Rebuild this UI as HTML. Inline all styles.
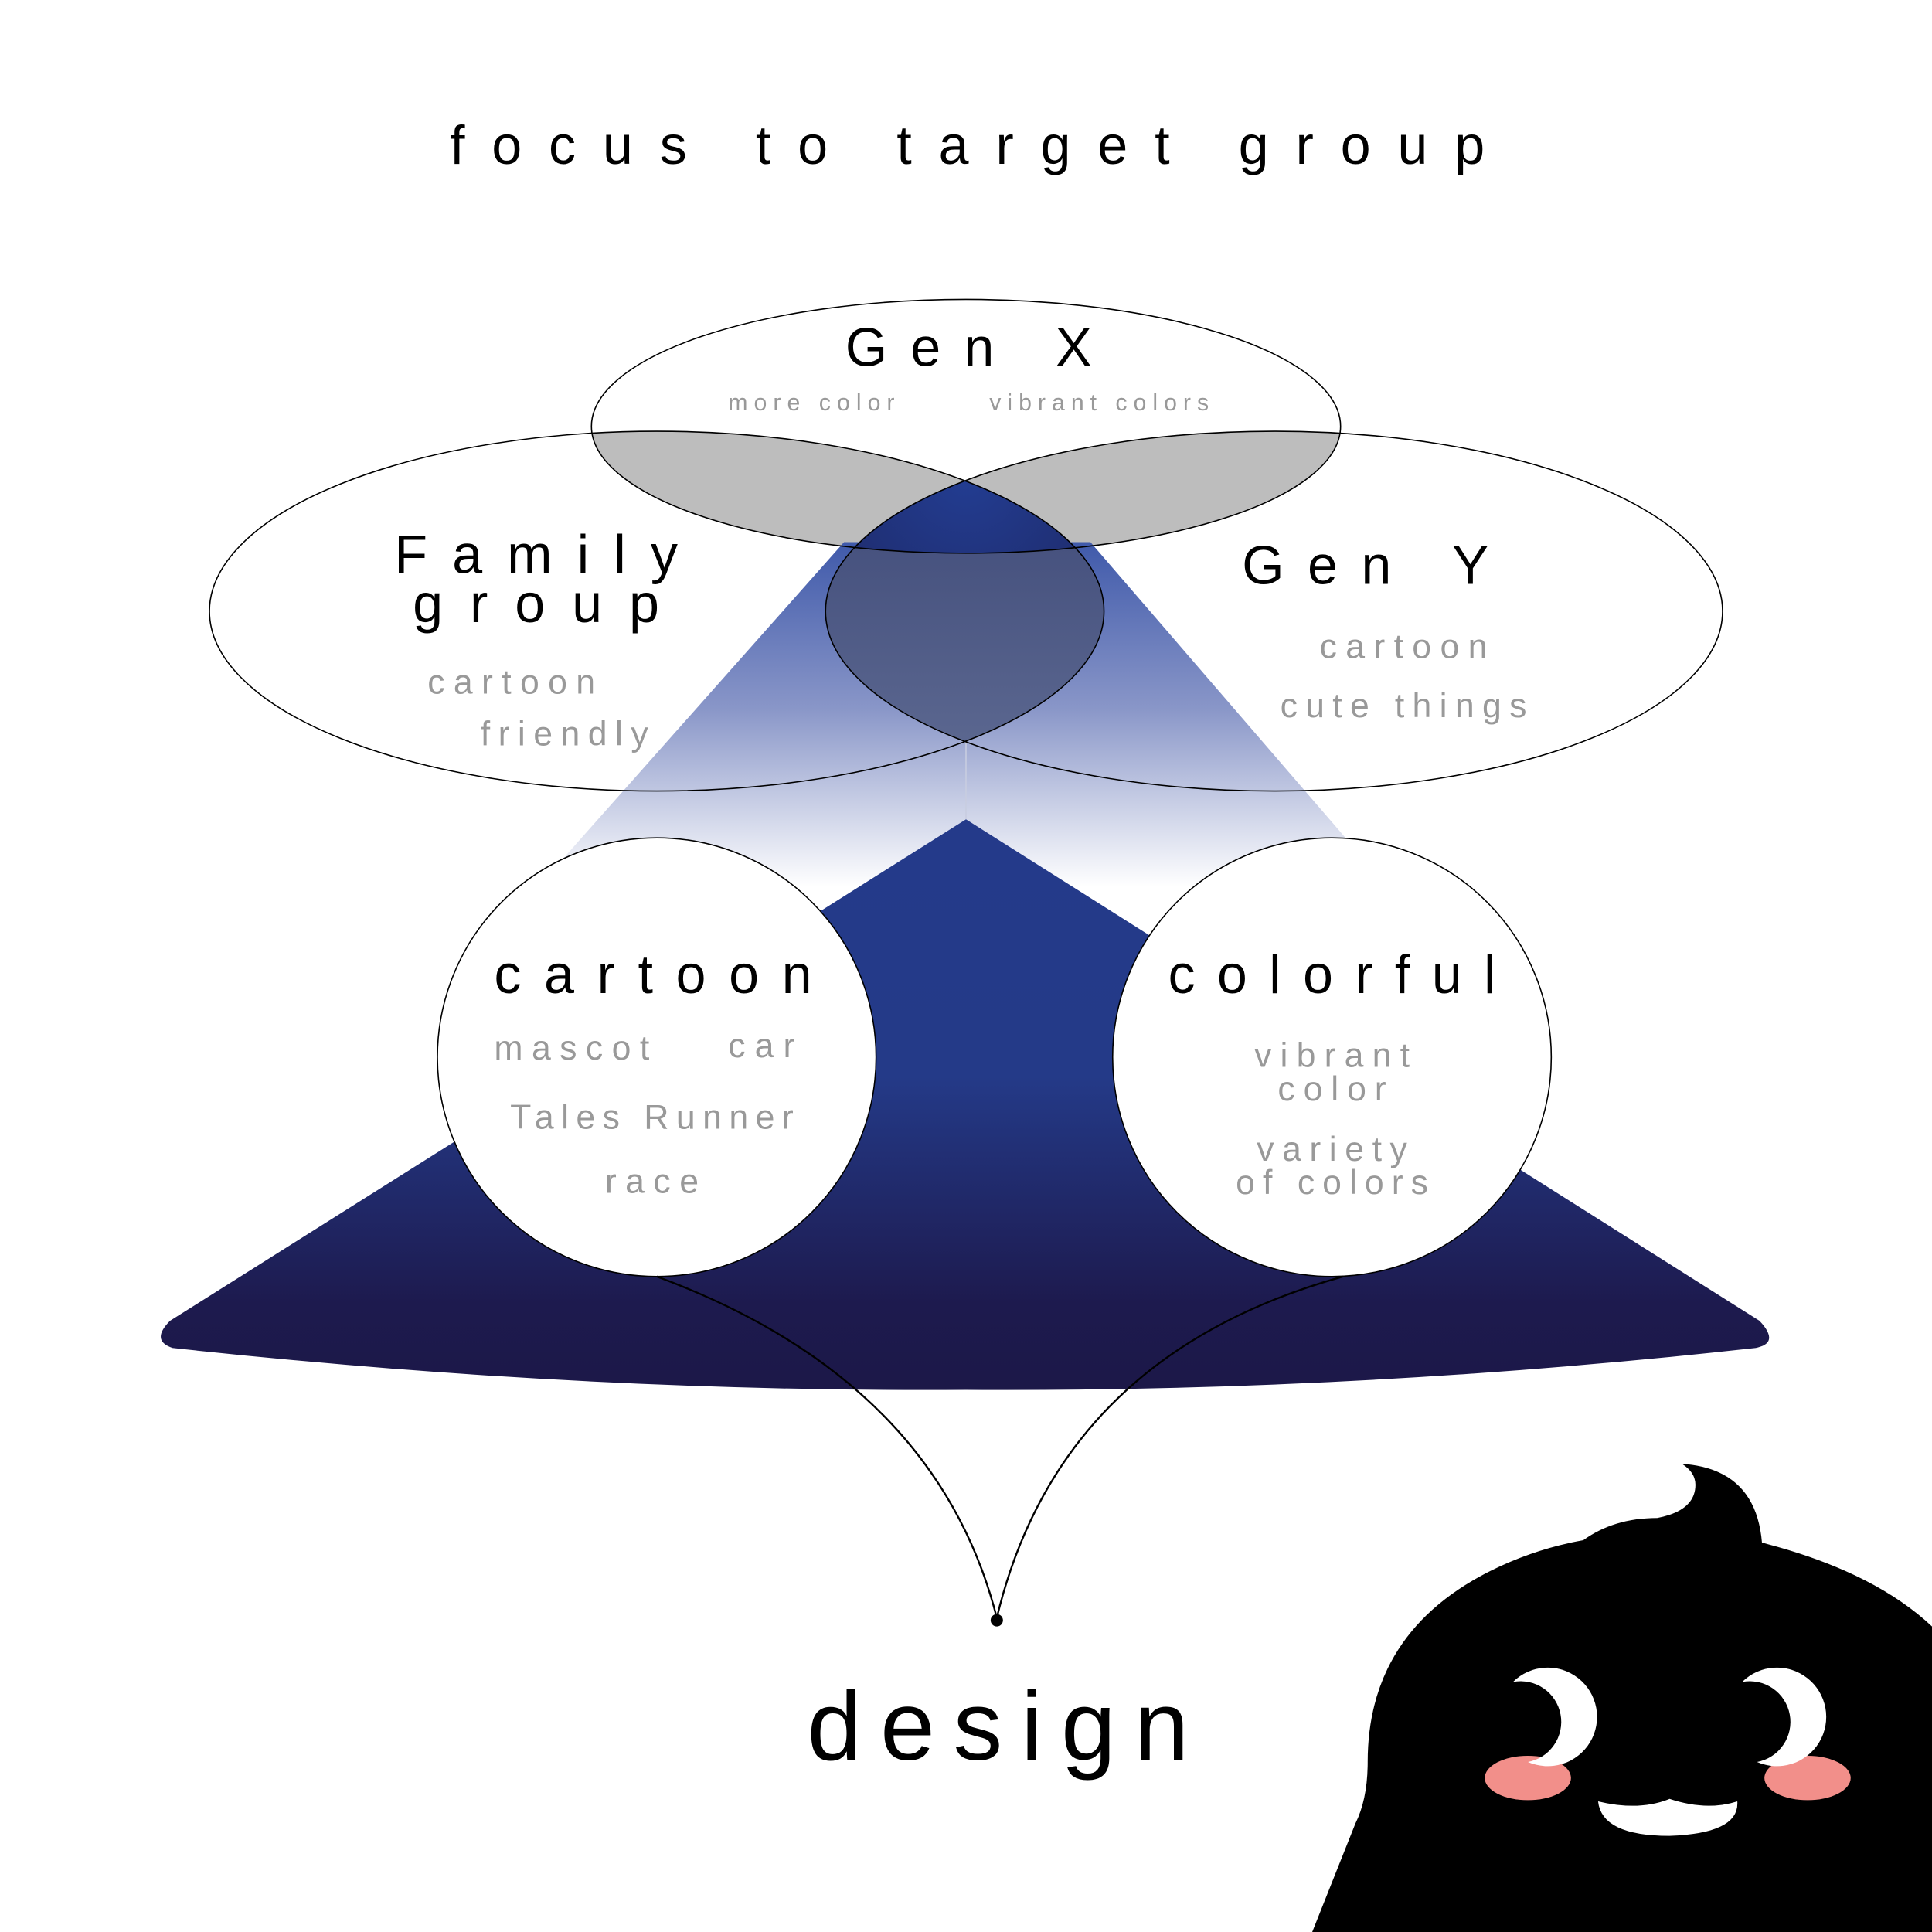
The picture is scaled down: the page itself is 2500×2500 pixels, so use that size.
<!DOCTYPE html>
<html><head><meta charset="utf-8"><style>
html,body{margin:0;padding:0;background:#fff;}
svg{display:block;}
text{font-family:"Liberation Sans",sans-serif;}
</style></head><body>
<svg width="2500" height="2500" viewBox="0 0 1568 1568" xmlns="http://www.w3.org/2000/svg">
<defs>
<linearGradient id="tri" x1="0" y1="665" x2="0" y2="1128" gradientUnits="userSpaceOnUse">
<stop offset="0" stop-color="#243a8a"/><stop offset="0.45" stop-color="#243a88"/><stop offset="0.85" stop-color="#1d1a4e"/><stop offset="1" stop-color="#1c1848"/></linearGradient>
<linearGradient id="cone" x1="0" y1="430" x2="0" y2="720" gradientUnits="userSpaceOnUse">
<stop offset="0" stop-color="#3a55a8"/><stop offset="0.5" stop-color="#8996c8"/><stop offset="1" stop-color="#ffffff"/></linearGradient>
<linearGradient id="lens" x1="0" y1="380" x2="0" y2="600" gradientUnits="userSpaceOnUse">
<stop offset="0" stop-color="#3f4a78"/><stop offset="1" stop-color="#5a668f"/></linearGradient>
<radialGradient id="dome" cx="784" cy="385" r="120" gradientUnits="userSpaceOnUse">
<stop offset="0" stop-color="#233d92"/><stop offset="1" stop-color="#1f2d70"/></radialGradient>
<clipPath id="cx"><ellipse cx="784" cy="346" rx="304" ry="103"/></clipPath>
<clipPath id="cf"><ellipse cx="533" cy="496" rx="363" ry="146"/></clipPath>
<clipPath id="cy"><ellipse cx="1034" cy="496" rx="364" ry="146"/></clipPath>
</defs>
<rect width="1568" height="1568" fill="#fff"/>
<text x="785" y="133" font-size="44" text-anchor="middle" textLength="840" lengthAdjust="spacing" fill="#000">focus to target group</text>

<g clip-path="url(#cx)"><ellipse cx="533" cy="496" rx="363" ry="146" fill="#bdbdbd"/><ellipse cx="1034" cy="496" rx="364" ry="146" fill="#bdbdbd"/></g>

<polygon points="685,440 885,440 1161,760 401,760" fill="url(#cone)"/>
<line x1="784" y1="440" x2="784" y2="665" stroke="#c8cde0" stroke-width="1"/>
<path d="M784,665 L1428,1072 Q1445,1090 1425,1094 Q1100,1130 784,1128 Q470,1130 140,1094 Q122,1088 138,1072 Z" fill="url(#tri)"/>

<g clip-path="url(#cf)"><ellipse cx="1034" cy="496" rx="364" ry="146" fill="url(#lens)"/></g>
<g clip-path="url(#cf)"><g clip-path="url(#cy)"><ellipse cx="784" cy="346" rx="304" ry="103" fill="url(#dome)"/></g></g>

<g fill="none" stroke="#000" stroke-width="1">
<ellipse cx="784" cy="346" rx="304" ry="103"/>
<ellipse cx="533" cy="496" rx="363" ry="146"/>
<ellipse cx="1034" cy="496" rx="364" ry="146"/>
</g>

<text x="786" y="297" font-size="44" text-anchor="middle" textLength="200" lengthAdjust="spacing">Gen X</text>
<g fill="#999" font-size="19">
<text x="591" y="333" textLength="135" lengthAdjust="spacing">more color</text>
<text x="803" y="333" textLength="178" lengthAdjust="spacing">vibrant colors</text>
</g>
<text x="320" y="465" font-size="44" textLength="230" lengthAdjust="spacing">Family</text>
<text x="335" y="505" font-size="44" textLength="200" lengthAdjust="spacing">group</text>
<g fill="#999" font-size="28">
<text x="347" y="563" textLength="136" lengthAdjust="spacing">cartoon</text>
<text x="390" y="605" textLength="136" lengthAdjust="spacing">friendly</text>
<text x="1071" y="534" textLength="136" lengthAdjust="spacing">cartoon</text>
<text x="1039" y="582" textLength="200" lengthAdjust="spacing">cute things</text>
</g>
<text x="1008" y="474" font-size="44" textLength="200" lengthAdjust="spacing">Gen Y</text>

<circle cx="533" cy="858" r="178" fill="#fff" stroke="#000" stroke-width="1"/>
<circle cx="1081" cy="858" r="178" fill="#fff" stroke="#000" stroke-width="1"/>
<text x="401" y="806" font-size="44" textLength="258" lengthAdjust="spacing">cartoon</text>
<text x="948" y="806" font-size="44" textLength="266" lengthAdjust="spacing">colorful</text>
<g fill="#999" font-size="28">
<text x="401" y="860" textLength="126" lengthAdjust="spacing">mascot</text>
<text x="591" y="858" textLength="54" lengthAdjust="spacing">car</text>
<text x="414" y="916" textLength="230" lengthAdjust="spacing">Tales Runner</text>
<text x="491" y="968" textLength="76" lengthAdjust="spacing">race</text>
<text x="1081" y="866" text-anchor="middle" textLength="126" lengthAdjust="spacing">vibrant</text>
<text x="1081" y="893" text-anchor="middle" textLength="88" lengthAdjust="spacing">color</text>
<text x="1081" y="942" text-anchor="middle" textLength="122" lengthAdjust="spacing">variety</text>
<text x="1081" y="969" text-anchor="middle" textLength="156" lengthAdjust="spacing">of colors</text>
</g>

<g fill="none" stroke="#000" stroke-width="1.5">
<path d="M533,1036 Q760,1120 809,1313"/>
<path d="M1090,1036 Q860,1100 809,1313"/>
</g>
<circle cx="809" cy="1315" r="5" fill="#000"/>
<text x="810" y="1428" font-size="80" text-anchor="middle" textLength="310" lengthAdjust="spacing">design</text>

<path d="M1065,1568 L1100,1480 Q1110,1460 1110,1430 Q1110,1330 1200,1280 Q1240,1258 1285,1250 Q1310,1232 1345,1232 Q1376,1226 1376,1205 Q1376,1195 1365,1188 Q1425,1192 1430,1252 Q1520,1275 1568,1320 L1568,1568 Z" fill="#000"/>
<ellipse cx="1240" cy="1443" rx="35" ry="18" fill="#f28f8a"/>
<ellipse cx="1467" cy="1443" rx="35" ry="18" fill="#f28f8a"/>
<path d="M1228,1365 A40,40 0 1 1 1240,1430 A33,33 0 1 0 1228,1365 Z" fill="#fff"/>
<path d="M1414,1365 A40,40 0 1 1 1426,1430 A33,33 0 1 0 1414,1365 Z" fill="#fff"/>
<path d="M1297,1462 Q1330,1470 1355,1460 Q1385,1470 1410,1462 Q1412,1488 1355,1490 Q1300,1490 1297,1462 Z" fill="#fff"/>
</svg>
</body></html>
